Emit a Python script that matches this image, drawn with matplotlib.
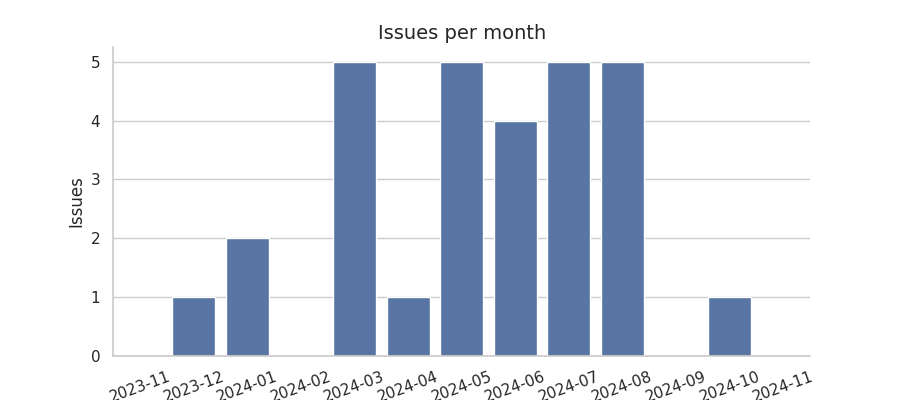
import matplotlib
matplotlib.use("Agg")
import matplotlib.pyplot as plt
import seaborn as sns
import pandas as pd

months = ["2023-11", "2023-12", "2024-01", "2024-02", "2024-03", "2024-04", "2024-05",
          "2024-06", "2024-07", "2024-08", "2024-09", "2024-10", "2024-11"]
issues = [0, 1, 2, 0, 5, 1, 5, 4, 5, 5, 0, 1, 0]

sns.set_theme(style="whitegrid")
df = pd.DataFrame({"month": months, "issues": issues})

fig, ax = plt.subplots(figsize=(9, 4), dpi=100)
sns.barplot(data=df, x="month", y="issues", ax=ax)
ax.set_title("Issues per month", fontsize=14)
ax.set_xlabel("")
ax.set_ylabel("Issues")
plt.xticks(rotation=20)
sns.despine(ax=ax)
fig.subplots_adjust(left=0.126, right=0.9, top=0.8825, bottom=0.11)
fig.savefig("out.png")
